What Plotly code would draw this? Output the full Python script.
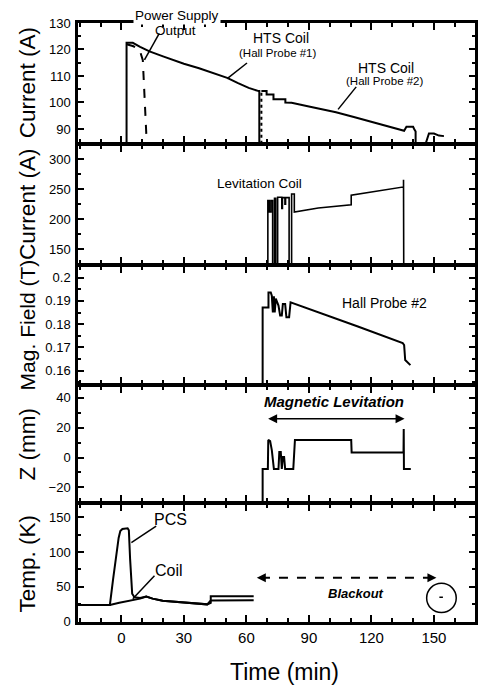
import plotly.graph_objects as go
from plotly.subplots import make_subplots

# ---------------- data ----------------
# Panel 1: HTS coil current (A)
t_hts1 = [-20.8, 2.5, 2.5, 5.5, 9, 13.5, 20, 24.6, 30, 37.3, 44, 50.8, 56, 61.1, 65.9, 66.2, 66.2]
i_hts1 = [84.4, 84.4, 122.5, 122.5, 121, 119.3, 117.4, 116.1, 114.6, 112.9, 111.1, 109.3, 107.3, 105.5, 104.3, 104.3, 84.4]
t_rise2 = [67.2, 67.2]
i_rise2 = [84.4, 104.3]
t_hts2 = [67.2, 69.7, 69.7, 73, 73, 78.7, 78.7, 81.7, 90, 103, 112, 120, 128, 135.7, 136.8, 140, 140.5, 141.2, 141.2]
i_hts2 = [104.3, 104.3, 103, 103, 101.2, 101.2, 100, 99.9, 98.5, 96.3, 94.4, 92.6, 90.9, 89.3, 90.8, 90.8, 90, 89, 84.4]
t_hts3 = [146, 147.6, 150, 152.4, 154.8]
i_hts3 = [84.4, 88.3, 88.3, 87.5, 87.3]
t_ps = [2.5, 5.5, 8.7, 10.3, 12.2]
i_ps = [122, 121.3, 120, 116, 84.4]

# Panel 2: levitation coil current (A)
t_lev = [-20.8, 70.3, 70.3, 71, 71, 71.8, 71.8, 72.6, 72.6, 73.5, 73.5, 74.1, 74.1, 75, 75,
         77, 77, 77.3, 77.3, 78.5, 78.5, 78.8, 78.8, 80.5, 80.5, 81.7, 81.7, 83, 83,
         94.5, 110.3, 110.3, 135.4, 135.4, 135.5, 135.5, 169.7]
i_lev = [123.8, 123.8, 231, 231, 212, 212, 231, 231, 123.8, 123.8, 235, 235, 123.8, 123.8, 236.5,
         236.5, 218, 218, 236, 236, 225, 225, 236, 236, 123.8, 123.8, 242, 242, 212,
         218.6, 224, 240, 253.8, 265.8, 265.8, 123.8, 123.8]

# Panel 3: Hall probe #2 field (T)
t_hall = [-20.8, 67.8, 67.8, 70.6, 70.6, 71.7, 72.2, 72.7, 73.2, 73.6, 74.1, 74.6, 75.4, 76.2, 77,
          77.5, 78.6, 79.2, 80.5, 81.2, 94.5, 113.5, 135, 135.7, 136.2, 137.5, 138.7]
b_hall = [0.154, 0.154, 0.1872, 0.1872, 0.1936, 0.1936, 0.1922, 0.185, 0.192, 0.185, 0.191, 0.19,
          0.188, 0.1837, 0.1837, 0.1887, 0.1887, 0.183, 0.183, 0.1894, 0.1852, 0.179, 0.1719, 0.171,
          0.1646, 0.1635, 0.1624]

# Panel 4: levitation height Z (mm)
t_z = [-20.8, 67.8, 67.8, 70.3, 70.5, 71.4, 72.2, 73.2, 75.4, 75.8, 76.5, 77, 77.5, 78.1, 78.6,
       82.5, 83.3, 110.3, 110.5, 135.4, 135.5, 135.6, 138.9]
z_mm = [-30.3, -30.3, -7.7, -7.7, 11.8, 11, 5, -7.7, -7.7, 3.7, 3.7, -7.7, 0.4, 0.4, -7.7,
        -7.7, 11.8, 11.8, 3.3, 3.3, 19, -7.7, -7.7]

# Panel 5: temperatures (K)
t_pcs = [-20.8, -5.5, -4, -2.5, -1.3, -0.5, 0.5, 3, 3.6, 4.2, 5.2, 6.3, 9, 11.9, 15, 19.8, 27.8, 35, 41.2, 42.9, 42.9, 63.5]
T_pcs = [24, 24, 60, 95, 120, 130, 133, 134, 131, 90, 40, 35, 34, 36, 33, 30, 28, 26.5, 24.8, 27, 36.5, 36.5]
t_coil = [-20.8, -5.5, -1, 2, 5.5, 9, 12, 15, 19.8, 27.8, 35, 41.2, 42.9, 63.5]
T_coil = [24, 24, 27, 28.5, 30.5, 33, 36, 33, 30, 28, 26.5, 24.8, 30.5, 30.8]

x_range = [-20.8, 169.7]
y_titles = ["Current (A)", "Current (A)", "Mag. Field (T)", "Z (mm)", "Temp. (K)"]
y_title_sizes = [22.5, 22.5, 21, 22.5, 22.5]
y_ranges = [[84.8, 130], [125.5, 323.4], [0.1544, 0.2049], [-29.6, 47.7], [-0.5, 168.4]]
y_dticks = [10, 50, 0.01, 20, 50]
y_minor = [5, 25, 0.005, 10, 25]

# ---------------- figure ----------------
FONT = "Liberation Sans, Arial, sans-serif"
W, H = 478, 685
L, R, T, B = 78, 0, 23, 63
edges = [23, 144, 265, 385, 503, 622]  # pixel boundaries of panels
LW = 2.5
PH = H - T - B

fig = make_subplots(rows=5, cols=1, shared_xaxes=True, vertical_spacing=0)
line = dict(color="black", width=2)

fig.add_trace(go.Scatter(x=t_hts1, y=i_hts1, mode="lines", line=line), 1, 1)
fig.add_trace(go.Scatter(x=t_rise2, y=i_rise2, mode="lines", line=dict(color="black", width=2, dash="dot")), 1, 1)
fig.add_trace(go.Scatter(x=t_hts2, y=i_hts2, mode="lines", line=line), 1, 1)
fig.add_trace(go.Scatter(x=t_hts3, y=i_hts3, mode="lines", line=line), 1, 1)
fig.add_trace(go.Scatter(x=t_ps, y=i_ps, mode="lines", line=dict(color="black", width=2, dash="dash")), 1, 1)
fig.add_trace(go.Scatter(x=t_lev, y=i_lev, mode="lines", line=dict(color="black", width=1.6)), 2, 1)
fig.add_trace(go.Scatter(x=t_hall, y=b_hall, mode="lines", line=line), 3, 1)
fig.add_trace(go.Scatter(x=t_z, y=z_mm, mode="lines", line=line), 4, 1)
fig.add_trace(go.Scatter(x=t_pcs, y=T_pcs, mode="lines", line=line), 5, 1)
fig.add_trace(go.Scatter(x=t_coil, y=T_coil, mode="lines", line=line), 5, 1)

for r in range(1, 6):
    top_px, bot_px = edges[r - 1], edges[r]
    if r > 1:
        top_px += LW / 2
    if r < 5:
        bot_px -= LW / 2
    dom = [(H - B - bot_px) / PH, (H - B - top_px) / PH]
    fig.update_yaxes(row=r, col=1, domain=dom, range=y_ranges[r - 1], dtick=y_dticks[r - 1],
                     ticks="inside", ticklen=6, tickwidth=1.5, tickcolor="black",
                     minor=dict(ticks="inside", dtick=y_minor[r - 1], ticklen=3, tickwidth=1.5, tickcolor="black"),
                     showline=True, linewidth=LW, linecolor="black", mirror="allticks",
                     showgrid=False, zeroline=False,
                     tickfont=dict(family=FONT, size=13, color="black"), ticklabelstandoff=2)
    fig.update_xaxes(row=r, col=1, range=x_range, tickmode="linear", tick0=0, dtick=30,
                     ticks="inside", ticklen=7, tickwidth=1.5, tickcolor="black",
                     minor=dict(ticks="inside", tick0=0, dtick=10, ticklen=4, tickwidth=1.5, tickcolor="black"),
                     showline=True, linewidth=LW, linecolor="black", mirror="allticks",
                     showgrid=False, zeroline=False, showticklabels=(r == 5),
                     tickfont=dict(family=FONT, size=15, color="black"))
    fig.add_annotation(xref="paper", yref="paper", x=(27 - L) / (W - L - R), y=(dom[0] + dom[1]) / 2,
                       text=y_titles[r - 1], textangle=-90, showarrow=False,
                       font=dict(family=FONT, size=y_title_sizes[r - 1], color="black"),
                       xanchor="center", yanchor="middle")

fig.add_annotation(xref="paper", yref="paper", x=(286 - L) / (W - L - R), y=-(672 - 622) / PH,
                   text="Time (min)", showarrow=False, font=dict(family=FONT, size=23, color="black"),
                   xanchor="center", yanchor="middle")

def txt(xr, yr, x, y, s, size, bold=False, italic=False, bg=None):
    if bold:
        s = "<b>" + s + "</b>"
    if italic:
        s = "<i>" + s + "</i>"
    kw = {}
    if bg:
        kw["bgcolor"] = bg
    fig.add_annotation(xref=xr, yref=yr, x=x, y=y, text=s, showarrow=False,
                       font=dict(family=FONT, size=size, color="black"), xanchor="center", yanchor="middle", **kw)

def seg(xr, yr, x0, y0, x1, y1, dash=None, w=1.5):
    fig.add_shape(type="line", xref=xr, yref=yr, x0=x0, y0=y0, x1=x1, y1=y1,
                  line=dict(color="black", width=w, dash=dash))

# panel 1 labels
txt("x", "y domain", 26.8, 1 + (23 - 15) / 121, "Power Supply", 13.5, bg="white")
txt("x", "y", 26.2, 127.2, "Output", 13.5)
seg("x", "y", 18.2, 126.1, 11.1, 116.1)
txt("x", "y", 76.6, 124.3, "HTS Coil", 14)
txt("x", "y", 75, 118.6, "(Hall Probe #1)", 11.5)
seg("x", "y", 60.3, 114.9, 50.8, 109.0)
txt("x", "y", 126.8, 113, "HTS Coil", 14)
txt("x", "y", 126.6, 108, "(Hall Probe #2)", 11.5)
seg("x", "y", 112.7, 105.9, 104, 97.4)
# panel 2
txt("x2", "y2", 66.2, 260, "Levitation Coil", 13.5)
# panel 3
txt("x3", "y3", 126.2, 0.189, "Hall Probe #2", 14)
# panel 4
txt("x4", "y4", 102, 37.5, "Magnetic Levitation", 15, bold=True, italic=True)
fig.add_annotation(xref="x4", yref="y4", axref="x4", ayref="y4", x=135.9, y=26, ax=69.7, ay=26,
                   text="", showarrow=True, arrowside="end+start", arrowhead=2, startarrowhead=2,
                   arrowwidth=1.5, arrowsize=1.2, startarrowsize=1.2, arrowcolor="black")
# panel 5
txt("x5", "y5", 23.8, 147, "PCS", 16)
seg("x5", "y5", 16.7, 137, 4.8, 113.5)
txt("x5", "y5", 23, 73, "Coil", 16)
seg("x5", "y5", 15.9, 66, 5.5, 33)
seg("x5", "y5", 67, 63, 149, 63, dash="dash", w=2)
fig.add_annotation(xref="x5", yref="y5", axref="x5", ayref="y5", x=65, y=63, ax=69, ay=63,
                   text="", showarrow=True, arrowhead=2, arrowwidth=1.5, arrowsize=1.2, arrowcolor="black")
fig.add_annotation(xref="x5", yref="y5", axref="x5", ayref="y5", x=151.2, y=63, ax=147, ay=63,
                   text="", showarrow=True, arrowhead=2, arrowwidth=1.5, arrowsize=1.2, arrowcolor="black")
txt("x5", "y5", 112.7, 40.3, "Blackout", 13, bold=True, italic=True)
fig.add_shape(type="circle", xref="x5", yref="y5", x0=146.5, x1=160.7, y0=13, y1=55,
              line=dict(color="black", width=1.5))
seg("x5", "y5", 152.6, 35, 154.3, 35, w=1.5)

fig.update_layout(width=W, height=H, margin=dict(l=L, r=R, t=T, b=B),
                  paper_bgcolor="white", plot_bgcolor="white", showlegend=False,
                  font=dict(family=FONT, color="black"))
fig.write_html("out.html", config={"displayModeBar": False},
               post_script="document.body.style.margin='0px';document.body.style.overflow='hidden';")
